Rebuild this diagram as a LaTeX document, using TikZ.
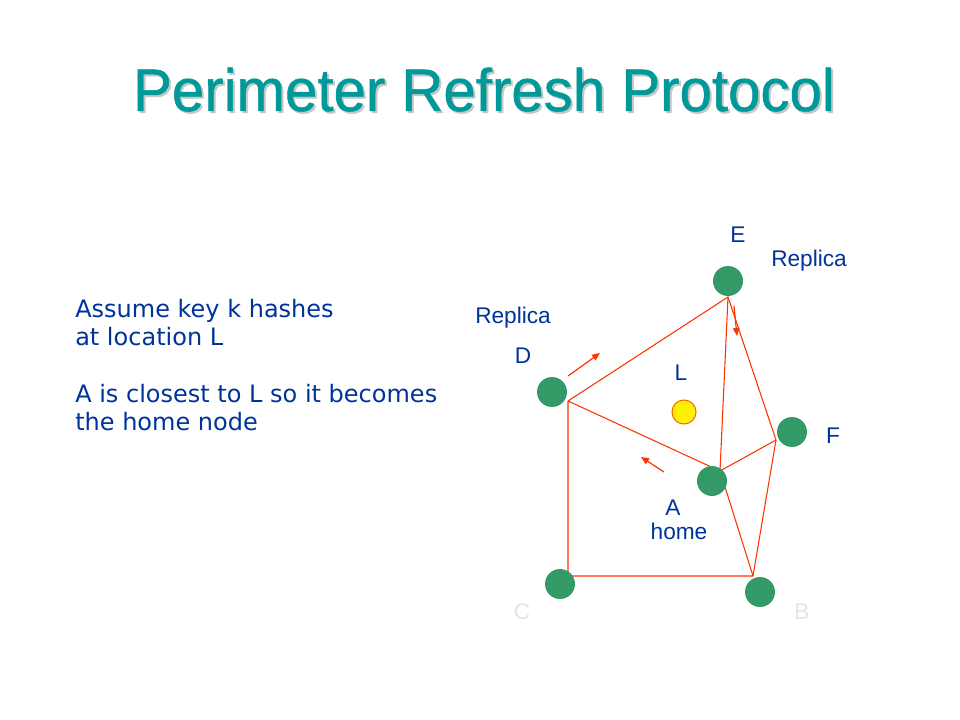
\documentclass[tikz,border=0pt]{standalone}
\usepackage{fontspec}
\usetikzlibrary{arrows.meta}
\setmainfont{Liberation Sans}
\newfontfamily\notefont{DejaVu Sans}
\newfontfamily\titlefont[BoldFont={Liberation Sans}, BoldFeatures={FakeBold=0.8}]{Liberation Sans}

\begin{document}
\begin{tikzpicture}[x=0.75pt, y=-0.75pt, >={Triangle[length=6pt,width=5pt]}]
  % Define colors
  \definecolor{titlecolor}{RGB}{0,153,153}
  \definecolor{labelcolor}{RGB}{0,51,153}
  \definecolor{peercolor}{RGB}{51,153,102}
  \definecolor{edgecolor}{RGB}{255,51,0}
  \definecolor{ghostcolor}{RGB}{228,228,228}

  \tikzset{
    peer/.style={circle, fill=peercolor, minimum size=22.5pt, inner sep=0pt},
    edge/.style={edgecolor, line width=0.8pt},
    move/.style={->, edgecolor, line width=0.9pt},
    tag/.style={labelcolor, font=\fontsize{17}{20}\selectfont, anchor=base, inner sep=0pt},
    note/.style={labelcolor, font=\notefont\fontsize{18}{21}\selectfont, anchor=base west, inner sep=0pt},
    headline/.style={anchor=base, font=\titlefont\bfseries\fontsize{45}{54}\selectfont, xscale=0.97, transform shape}
  }

  \useasboundingbox (0,0) rectangle (960,720);

  % Title with its shadow
  \node[headline, gray!45] (titleshadow) at (486,113) {Perimeter Refresh Protocol};
  \node[headline, titlecolor] (title) at (484,111) {Perimeter Refresh Protocol};

  % Text on the left
  \foreach \txt/\y [count=\i] in {Assume key k hashes/317, at location L/345,
      A is closest to L so it becomes/402, the home node/430}
    \node[note] (note\i) at (75,\y) {\txt};

  % Corners where the perimeter edges meet
  \coordinate (d) at (568,401);
  \coordinate (e) at (728,297);
  \coordinate (f) at (776,440);
  \coordinate (a) at (720,471);
  \coordinate (b) at (753,576);
  \coordinate (c) at (568,576);

  % Perimeter edges
  \draw[edge] (d) -- (e) -- (f) -- (b) -- (c) -- (d);
  \draw[edge] (d) -- (a) -- (e);
  \draw[edge] (f) -- (a) -- (b);

  % Nodes
  \node[peer] (D) at (552,392) {};
  \node[peer] (E) at (728,281) {};
  \node[peer] (F) at (792,432) {};
  \node[peer] (A) at (712,481) {};
  \node[peer] (C) at (560,584) {};
  \node[peer] (B) at (760,592) {};

  % Location L of the key
  \node[circle, fill=yellow, draw=orange!80!red, line width=0.8pt, minimum size=18pt, inner sep=0pt]
    (L) at (684,412) {};

  % Refresh messages
  \draw[move] (568,376) -- (600,353);
  \draw[move] (734,306) -- (737,336);
  \draw[move] (664,472) -- (641,457);

  % Labels
  \node[tag] (labE) at (738,243) {E};
  \node[tag, anchor=base west] (repE) at (771,267) {Replica};
  \node[tag, anchor=base west] (repD) at (475,324) {Replica};
  \node[tag] (labD) at (523,363) {D};
  \node[tag] (labL) at (681,380) {L};
  \node[tag] (labF) at (833,443) {F};
  \node[tag] (labA) at (673,515) {A};
  \node[tag] (home) at (679,539) {home};
  \node[tag, ghostcolor] (labC) at (522,619) {C};
  \node[tag, ghostcolor] (labB) at (802,619) {B};
\end{tikzpicture}
\end{document}
